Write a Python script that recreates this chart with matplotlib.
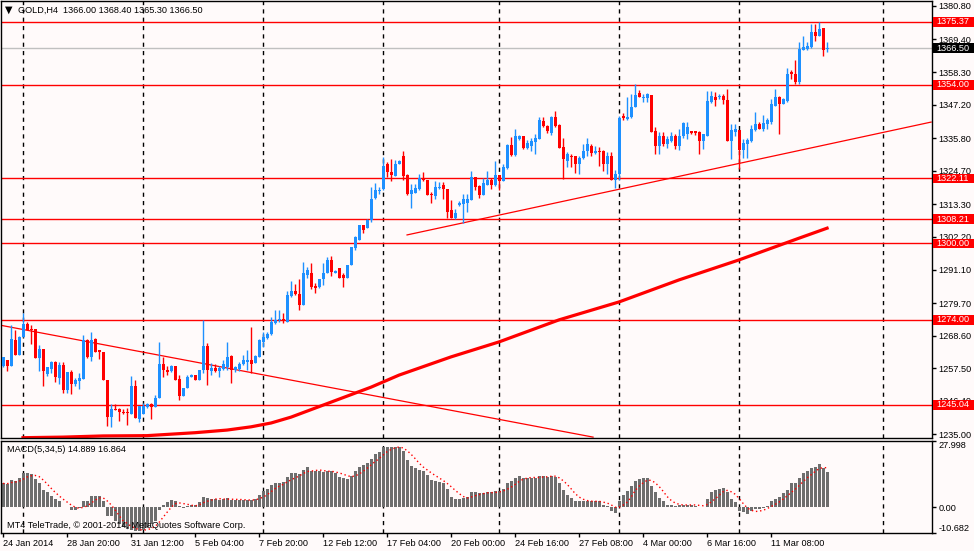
import numpy as np
import pandas as pd
import matplotlib
matplotlib.use('Agg')
import matplotlib.pyplot as plt
import matplotlib.transforms as mtransforms
from matplotlib.patches import Rectangle

plt.rcParams['font.family'] = ['Liberation Sans', 'DejaVu Sans']

# GOLD H4 candles (oldest first)
opens = [1258.2, 1260.4, 1258.2, 1267.2, 1261.9, 1268.3, 1272.6, 1270.8, 1270.8, 1261.0,
         1264.0, 1255.7, 1257.4, 1259.6, 1254.2, 1258.6, 1250.0, 1256.2, 1252.3, 1253.3,
         1254.0, 1267.0, 1261.2, 1267.4, 1263.6, 1263.2, 1253.6, 1240.9, 1243.5, 1243.5,
         1242.4, 1242.4, 1242.1, 1251.4, 1240.4, 1242.0, 1244.3, 1245.5, 1244.3, 1247.4,
         1259.0, 1257.0, 1256.5, 1258.4, 1253.9, 1248.2, 1250.8, 1254.4, 1255.3, 1253.4,
         1256.8, 1265.0, 1256.5, 1257.6, 1256.5, 1257.3, 1257.9, 1261.8, 1256.9, 1257.4,
         1259.0, 1259.8, 1260.4, 1259.3, 1261.5, 1266.3, 1267.8, 1269.1, 1272.9, 1273.8,
         1274.2, 1273.4, 1282.2, 1283.8, 1282.8, 1279.1, 1289.2, 1289.8, 1285.5, 1285.3,
         1287.8, 1289.8, 1294.3, 1290.0, 1291.5, 1289.2, 1288.4, 1292.6, 1298.3, 1301.1,
         1306.2, 1305.4, 1307.9, 1315.6, 1317.7, 1318.6, 1326.9, 1324.3, 1323.1, 1327.1,
         1329.9, 1323.4, 1316.9, 1317.2, 1318.6, 1322.4, 1321.5, 1316.9, 1316.0, 1318.9,
         1319.8, 1318.6, 1311.3, 1308.7, 1313.0, 1313.5, 1313.9, 1314.7, 1322.6, 1319.5,
         1316.4, 1320.0, 1321.5, 1320.0, 1323.2, 1321.1, 1325.6, 1333.6, 1330.0, 1335.4,
         1336.5, 1332.4, 1333.1, 1334.5, 1335.4, 1341.8, 1340.1, 1337.6, 1342.9, 1340.3,
         1332.8, 1328.2, 1329.9, 1329.6, 1326.9, 1329.1, 1331.6, 1333.3, 1330.7, 1331.6,
         1331.4, 1326.9, 1329.6, 1321.5, 1323.5, 1343.2, 1342.4, 1342.9, 1346.6, 1351.1,
         1349.5, 1349.5, 1350.6, 1338.4, 1333.3, 1336.7, 1333.9, 1335.0, 1336.7, 1333.3,
         1336.4, 1337.1, 1338.1, 1338.1, 1337.9, 1334.8, 1336.7, 1348.0, 1349.9, 1349.7,
         1350.3, 1348.8, 1334.9, 1337.9, 1338.6, 1331.8, 1333.7, 1334.9, 1338.6, 1340.8,
         1339.0, 1340.8, 1341.3, 1346.9, 1349.9, 1347.6, 1348.4, 1358.3, 1357.5, 1354.9,
         1365.9, 1366.2, 1366.8, 1371.8, 1370.5, 1373.3, 1366.0]
highs = [1261.5, 1260.4, 1272.3, 1270.4, 1268.6, 1276.5, 1273.4, 1272.3, 1270.8, 1265.5,
         1264.0, 1257.9, 1259.9, 1259.9, 1259.5, 1259.5, 1256.2, 1257.0, 1254.2, 1255.9,
         1268.9, 1267.4, 1269.7, 1267.8, 1263.8, 1263.2, 1253.6, 1245.4, 1245.4, 1243.9,
         1243.8, 1244.0, 1254.8, 1253.4, 1244.8, 1245.7, 1245.7, 1245.7, 1248.6, 1266.3,
         1261.5, 1258.4, 1258.7, 1258.4, 1255.3, 1250.8, 1255.3, 1255.6, 1255.3, 1257.0,
         1274.0, 1266.1, 1259.3, 1258.9, 1258.2, 1260.2, 1266.6, 1262.1, 1258.2, 1259.8,
         1262.1, 1263.8, 1271.5, 1262.1, 1267.4, 1270.0, 1270.0, 1275.1, 1277.4, 1277.4,
         1276.5, 1283.9, 1287.2, 1286.1, 1287.8, 1293.8, 1292.1, 1293.2, 1286.6, 1287.8,
         1293.2, 1295.4, 1295.7, 1290.9, 1291.5, 1289.8, 1292.6, 1298.9, 1302.5, 1306.2,
         1306.2, 1308.4, 1319.2, 1320.5, 1319.2, 1329.4, 1327.7, 1328.8, 1328.5, 1328.5,
         1331.6, 1323.7, 1320.3, 1320.3, 1323.7, 1324.3, 1321.5, 1317.5, 1321.1, 1320.9,
         1320.9, 1318.6, 1314.7, 1311.8, 1314.3, 1316.9, 1316.7, 1324.5, 1322.6, 1320.0,
         1322.2, 1324.8, 1322.2, 1327.9, 1323.2, 1327.1, 1333.9, 1336.1, 1339.0, 1336.9,
         1336.5, 1335.2, 1335.8, 1337.3, 1342.9, 1342.9, 1340.3, 1343.5, 1344.9, 1340.7,
         1335.8, 1331.1, 1330.5, 1329.9, 1329.9, 1333.7, 1335.9, 1333.7, 1333.0, 1332.8,
         1331.9, 1331.1, 1331.1, 1324.9, 1343.3, 1344.3, 1349.7, 1350.8, 1354.2, 1352.2,
         1350.8, 1351.1, 1350.6, 1339.5, 1337.9, 1337.9, 1336.4, 1337.9, 1337.1, 1339.0,
         1341.4, 1341.2, 1338.4, 1338.4, 1338.4, 1337.3, 1351.8, 1352.0, 1351.4, 1351.0,
         1350.7, 1352.6, 1340.5, 1340.8, 1338.6, 1335.4, 1336.0, 1340.2, 1344.7, 1341.3,
         1343.6, 1342.8, 1349.0, 1352.4, 1350.3, 1349.5, 1359.7, 1358.9, 1362.5, 1368.4,
         1370.7, 1368.4, 1374.8, 1374.8, 1375.37, 1373.3, 1368.4]
lows = [1257.9, 1256.5, 1258.2, 1261.9, 1261.9, 1268.0, 1270.6, 1265.7, 1261.0, 1256.7,
        1251.6, 1254.8, 1255.9, 1252.7, 1252.2, 1249.1, 1249.1, 1248.9, 1251.6, 1250.5,
        1254.0, 1261.0, 1260.1, 1262.9, 1260.6, 1253.6, 1237.8, 1237.6, 1243.2, 1239.5,
        1241.8, 1238.1, 1242.1, 1240.6, 1239.3, 1242.0, 1244.0, 1240.1, 1244.3, 1247.4,
        1254.5, 1255.3, 1256.1, 1253.4, 1246.6, 1248.2, 1250.8, 1254.4, 1253.6, 1253.4,
        1255.9, 1252.0, 1255.3, 1256.1, 1254.5, 1256.8, 1257.0, 1252.5, 1256.1, 1256.5,
        1258.7, 1257.0, 1255.9, 1259.3, 1261.5, 1264.7, 1267.5, 1268.9, 1272.6, 1273.4,
        1272.9, 1273.4, 1281.9, 1282.5, 1277.4, 1279.1, 1288.1, 1284.4, 1283.2, 1285.0,
        1285.9, 1289.8, 1288.9, 1289.8, 1288.1, 1285.3, 1288.4, 1292.6, 1297.7, 1301.1,
        1303.4, 1305.1, 1307.3, 1315.2, 1316.9, 1318.1, 1322.6, 1321.2, 1323.1, 1326.9,
        1321.5, 1316.4, 1311.9, 1317.0, 1318.3, 1321.2, 1316.4, 1313.9, 1315.2, 1318.6,
        1315.2, 1308.5, 1308.7, 1308.2, 1312.7, 1307.0, 1310.7, 1314.7, 1318.1, 1315.5,
        1316.4, 1319.8, 1318.6, 1319.5, 1318.1, 1321.1, 1325.4, 1329.9, 1329.9, 1335.1,
        1332.0, 1332.0, 1331.6, 1330.5, 1335.4, 1339.5, 1337.6, 1336.9, 1339.5, 1332.4,
        1322.0, 1326.0, 1326.0, 1323.9, 1323.7, 1328.8, 1329.9, 1329.6, 1330.5, 1326.5,
        1324.6, 1323.7, 1321.5, 1319.0, 1321.5, 1342.0, 1342.0, 1342.7, 1346.3, 1349.7,
        1348.0, 1348.0, 1337.8, 1330.5, 1330.3, 1333.0, 1332.5, 1334.5, 1332.2, 1331.9,
        1336.0, 1335.6, 1337.3, 1336.9, 1330.5, 1332.2, 1336.7, 1347.8, 1346.9, 1349.3,
        1347.3, 1334.9, 1328.6, 1336.5, 1325.5, 1329.2, 1329.2, 1334.5, 1338.2, 1338.8,
        1338.2, 1339.0, 1340.8, 1346.7, 1337.1, 1347.3, 1348.1, 1355.8, 1354.4, 1354.4,
        1365.7, 1365.9, 1366.5, 1368.8, 1370.5, 1363.9, 1365.3]
closes = [1261.2, 1258.2, 1267.4, 1261.9, 1268.3, 1272.6, 1270.6, 1270.4, 1261.0, 1264.0,
          1256.5, 1257.9, 1259.6, 1254.4, 1258.6, 1250.0, 1256.2, 1252.3, 1253.4, 1254.2,
          1267.0, 1261.2, 1267.0, 1263.2, 1262.9, 1253.6, 1240.9, 1243.8, 1243.2, 1242.6,
          1242.2, 1242.2, 1251.4, 1240.6, 1244.6, 1244.6, 1245.4, 1244.3, 1247.4, 1259.0,
          1256.8, 1256.1, 1258.4, 1253.4, 1248.2, 1250.8, 1254.4, 1255.3, 1253.6, 1257.0,
          1265.2, 1256.8, 1257.6, 1256.5, 1257.6, 1259.0, 1261.5, 1256.8, 1257.9, 1259.0,
          1260.4, 1260.4, 1259.0, 1261.8, 1267.2, 1268.1, 1269.1, 1273.4, 1274.0, 1274.2,
          1273.8, 1282.5, 1283.8, 1282.7, 1279.1, 1289.8, 1291.0, 1285.3, 1284.9, 1287.8,
          1290.0, 1294.3, 1290.4, 1290.6, 1288.1, 1288.1, 1292.6, 1298.9, 1302.2, 1306.2,
          1304.7, 1308.1, 1315.2, 1318.3, 1318.3, 1326.5, 1324.3, 1323.4, 1327.1, 1328.2,
          1322.8, 1316.7, 1318.1, 1319.0, 1322.4, 1321.5, 1316.4, 1316.4, 1319.2, 1319.2,
          1318.6, 1310.7, 1308.7, 1310.4, 1313.8, 1315.0, 1315.0, 1322.6, 1319.2, 1316.4,
          1320.7, 1321.5, 1320.0, 1323.2, 1321.1, 1326.0, 1333.6, 1330.2, 1336.5, 1336.5,
          1332.4, 1334.2, 1334.7, 1335.8, 1342.1, 1339.9, 1338.1, 1342.9, 1339.9, 1332.4,
          1328.8, 1330.5, 1329.4, 1326.9, 1329.1, 1331.6, 1333.7, 1330.7, 1331.6, 1331.1,
          1326.9, 1329.6, 1321.7, 1323.5, 1342.7, 1342.6, 1342.9, 1346.6, 1350.6, 1349.7,
          1349.7, 1350.8, 1337.8, 1333.3, 1336.7, 1333.9, 1335.6, 1336.7, 1333.3, 1336.7,
          1340.9, 1339.5, 1337.5, 1337.5, 1334.8, 1337.1, 1348.4, 1350.3, 1348.8, 1350.3,
          1348.8, 1334.9, 1338.6, 1339.0, 1331.8, 1334.1, 1335.2, 1339.0, 1340.8, 1339.0,
          1341.1, 1342.0, 1347.6, 1349.9, 1347.6, 1349.2, 1357.8, 1357.5, 1354.9, 1366.2,
          1366.8, 1367.1, 1371.8, 1370.7, 1372.9, 1365.9, 1366.5]

# MACD(5,34,5) main line, one value per candle
macd = [10.1, 9.8, 11.5, 11.2, 12.4, 14.3, 14.6, 14.1, 12.0, 10.1,
        7.3, 6.3, 4.9, 3.5, 2.5, 0.3, 0.1, -1.1, -1.1, -0.3,
        2.5, 2.8, 4.9, 4.9, 4.9, 2.8, -3.5, -3.5, -5.6, -7.0,
        -8.4, -9.1, -9.6, -9.8, -9.8, -9.6, -8.4, -7.0, -5.6, -1.1,
        1.1, 2.1, 3.1, 2.5, 0.7, -0.3, 0.7, 1.1, 1.1, 2.1,
        4.5, 3.9, 3.5, 3.5, 3.1, 3.5, 3.9, 3.2, 3.1, 3.1,
        3.1, 3.1, 3.1, 3.5, 5.3, 6.7, 7.7, 9.6, 10.1, 10.4,
        10.5, 12.7, 14.3, 14.3, 14.1, 15.7, 17.2, 15.2, 15.5, 15.2,
        14.8, 15.5, 15.2, 14.3, 12.9, 12.4, 12.0, 13.4, 15.5, 16.9,
        18.0, 18.6, 20.4, 22.5, 23.2, 25.6, 25.6, 25.3, 25.6, 25.3,
        23.6, 20.0, 17.6, 16.6, 15.7, 15.5, 13.8, 11.5, 11.0, 10.5,
        10.1, 7.7, 4.5, 3.5, 3.5, 3.9, 4.5, 6.3, 6.3, 5.9,
        5.9, 6.3, 6.6, 6.7, 7.0, 7.7, 10.1, 11.0, 12.4, 13.4,
        12.4, 12.4, 12.4, 12.4, 13.4, 13.4, 12.9, 13.4, 12.7, 10.1,
        7.3, 5.3, 3.9, 2.8, 2.5, 2.8, 2.5, 2.5, 2.5, 2.5,
        1.1, 0.7, -1.4, -2.5, 2.5, 5.3, 7.0, 9.1, 11.2, 12.0,
        12.4, 12.4, 9.1, 6.3, 3.9, 2.5, 1.1, 1.1, 0.7, 1.1,
        1.1, 1.1, 1.1, 0.7, 0.3, 0.3, 3.5, 6.3, 7.3, 7.7,
        8.2, 6.3, 3.5, 2.1, -1.4, -2.1, -2.8, -1.7, -0.7, -0.7,
        -0.3, 0.7, 2.8, 3.5, 4.5, 5.9, 7.3, 10.1, 10.1, 12.4,
        14.3, 15.2, 16.6, 17.2, 18.3, 16.6, 14.9]

# thick moving average, read at a few candles
ma_idx = [5, 15, 25, 36, 48, 56, 62, 67, 72, 82, 92, 99, 112, 124, 139, 154, 169, 184, 199, 206]
ma_val = [1233.9, 1234.1, 1234.5, 1234.6, 1235.6, 1236.5, 1237.6, 1238.9, 1240.9, 1246.0,
          1251.1, 1255.2, 1261.4, 1266.5, 1274.0, 1280.1, 1287.6, 1294.4, 1301.8, 1305.2]

# hand-drawn trend lines (candle index, price)
down_idx = [-0.75, 147.5]
down_val = [1272.2, 1234.1]
up_idx = [101, 232]
up_val = [1302.9, 1341.3]

levels = [1375.37, 1354.00, 1322.11, 1308.21, 1300.00, 1274.00, 1245.04]
bid = 1366.50
price_ticks = [1380.80, 1369.40, 1358.30, 1347.20, 1335.80, 1324.70, 1313.30,
               1302.20, 1291.10, 1279.70, 1268.60, 1257.50, 1246.40, 1235.00]
macd_ticks = [27.998, 0.0, -10.682]
macd_tick_labels = ['27.998', '0.00', '-10.682']

date_pos = [0, 16, 32, 48, 64, 80, 96, 112, 128, 144, 160, 176, 192]
date_labels = ['24 Jan 2014', '28 Jan 20:00', '31 Jan 12:00', '5 Feb 04:00', '7 Feb 20:00',
               '12 Feb 12:00', '17 Feb 04:00', '20 Feb 00:00', '24 Feb 16:00', '27 Feb 08:00',
               '4 Mar 00:00', '6 Mar 16:00', '11 Mar 08:00']
week_lines = [5, 35, 65, 95, 124, 154, 184, 220]

BG = '#fffafa'
BULL = '#1e90ff'
BEAR = '#ff0000'
FS = 6.6
W, H = 974, 551

o = np.array(opens); h = np.array(highs); l = np.array(lows); c = np.array(closes)
x = np.arange(len(c))

fig = plt.figure(figsize=(W / 100, H / 100), dpi=100, facecolor=BG)
ax = fig.add_axes([1 / W, 1 - 437.7 / H, 930.5 / W, 436.7 / H], facecolor=BG)
axm = fig.add_axes([1 / W, 1 - 532.7 / H, 930.5 / W, 91.7 / H], facecolor=BG)

xlim = (-0.5, 232.1)

# --- price panel ---
for i in week_lines:
    ax.axvline(i, color='black', lw=1, ls=(0, (3, 3)), zorder=1)
    axm.axvline(i, color='black', lw=1, ls=(0, (3, 3)), zorder=1)

for lv in levels:
    ax.axhline(lv, color='red', lw=1, zorder=1.5)
ax.axhline(bid, color='#c0c0c0', lw=1, zorder=1.5)

ax.plot(down_idx, down_val, color='red', lw=0.9, zorder=2)
ax.plot(up_idx, up_val, color='red', lw=0.9, zorder=2)
ax.plot(ma_idx, ma_val, color='red', lw=2.3, zorder=2)

cols = np.where(c >= o, BULL, BEAR)
ax.vlines(x, l, h, colors=cols, lw=1, zorder=3)
body_lo = np.minimum(o, c)
body_h = np.maximum(np.abs(c - o), 0.35)
ax.bar(x, body_h, bottom=body_lo, width=0.75, color=cols, linewidth=0, zorder=3)

ax.set_xlim(*xlim)
ax.set_ylim(1233.9, 1382.5)
ax.set_xticks([])
ax.yaxis.tick_right()
ax.set_yticks(price_ticks)
ax.set_yticklabels([f'{v:.2f}' for v in price_ticks])
ax.tick_params(axis='y', direction='out', length=3, width=1, pad=2, labelsize=FS, colors='black')

# value boxes on the price scale
blend = mtransforms.blended_transform_factory(ax.transAxes, ax.transData)
box_x0 = 1.0013
box_w = (W - 1) / 930.5 - box_x0
box_h = 3.3
for lv, fc in [(v, 'red') for v in levels] + [(bid, 'black')]:
    ax.add_patch(Rectangle((box_x0, lv - box_h / 2), box_w, box_h, transform=blend,
                           facecolor=fc, edgecolor='none', clip_on=False, zorder=5))
    ax.text(box_x0 + 0.004, lv, f'{lv:.2f}', transform=blend, color='white', fontsize=FS,
            va='center', ha='left', clip_on=False, zorder=6)

# --- MACD panel ---
signal = pd.Series(macd).rolling(5, min_periods=1).mean()  # MT4 signal = SMA(5) of MACD
axm.bar(x, macd, width=0.75, color='#6e6e6e', linewidth=0, zorder=2)
axm.plot(x, signal, color='red', lw=1, ls=(0, (1, 2)), zorder=3)
axm.set_xlim(*xlim)
axm.set_ylim(-10.682, 27.998)
axm.yaxis.tick_right()
axm.set_yticks(macd_ticks)
axm.set_yticklabels(macd_tick_labels)
axm.tick_params(axis='y', direction='out', length=3, width=1, pad=2, labelsize=FS, colors='black')
ylabs = axm.get_yticklabels()
ylabs[0].set_verticalalignment('top')
ylabs[2].set_verticalalignment('bottom')
axm.set_xticks(date_pos)
axm.set_xticklabels(date_labels)
axm.tick_params(axis='x', direction='out', length=3, width=1, pad=1.5, labelsize=FS, colors='black')
for t in axm.get_xticklabels():
    t.set_horizontalalignment('left')

for a in (ax, axm):
    for s in a.spines.values():
        s.set_color('black')
        s.set_linewidth(1)

# --- texts ---
fig.text(5 / W, 1 - 10 / H, '▼', fontsize=7, va='center', ha='left', color='black',
         family=['DejaVu Sans'])
fig.text(18 / W, 1 - 10 / H, 'GOLD,H4  1366.00 1368.40 1365.30 1366.50', fontsize=FS,
         va='center', ha='left', color='black')
fig.text(7 / W, 1 - 450 / H, 'MACD(5,34,5) 14.889 16.864', fontsize=FS,
         va='center', ha='left', color='black')
fig.text(7 / W, 1 - 526 / H, 'MT4 TeleTrade, © 2001-2014, MetaQuotes Software Corp.',
         fontsize=FS, va='center', ha='left', color='black')

fig.savefig('out.png', dpi=100, facecolor=BG)
